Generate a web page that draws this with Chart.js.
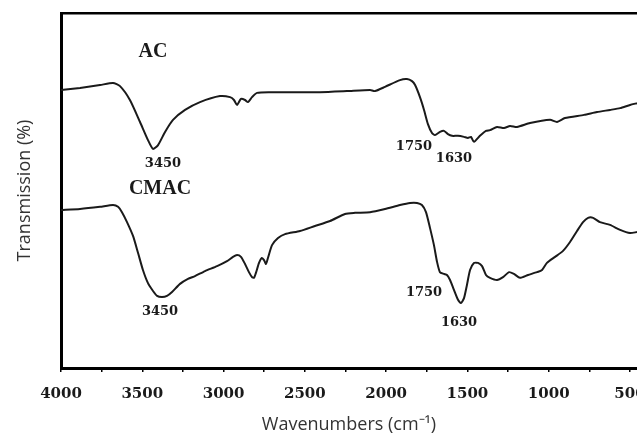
<!DOCTYPE html>
<html>
<head>
<meta charset="utf-8">
<script src="https://cdn.jsdelivr.net/npm/chart.js@4"></script>
<style>
 body { margin: 0; background: #fff; }
 canvas { display: block; }
</style>
</head>
<body>
<canvas id="chart" width="637" height="435"></canvas>
<script>
// wavenumbers (cm-1) and transmission (arbitrary units)
const acWave = [4000, 3883, 3760, 3680, 3637, 3576, 3514, 3465, 3434, 3403, 3360, 3311, 3237, 3145, 3022, 2960, 2936, 2917, 2893, 2868, 2850, 2825, 2794, 2714, 2591, 2407, 2241, 2099, 2069, 2007, 1915, 1872, 1841, 1822, 1792, 1767, 1743, 1718, 1700, 1669, 1644, 1620, 1595, 1558, 1521, 1497, 1478, 1460, 1423, 1386, 1361, 1318, 1275, 1238, 1195, 1115, 992, 949, 900, 783, 703, 623, 561, 500, 457];
const acTrans = [78.3, 78.9, 79.7, 80.3, 79.4, 75.5, 69.3, 64.2, 61.7, 62.8, 66.5, 69.9, 72.7, 74.9, 76.6, 76.3, 75.5, 74.1, 75.8, 75.5, 74.9, 76.3, 77.5, 77.7, 77.7, 77.7, 78.0, 78.3, 78.0, 79.2, 81.1, 81.4, 80.8, 79.7, 76.3, 72.7, 68.7, 66.2, 65.6, 66.5, 66.8, 65.9, 65.4, 65.4, 65.1, 64.8, 65.1, 63.7, 65.4, 66.8, 67.0, 67.9, 67.6, 68.2, 67.9, 69.0, 69.9, 69.3, 70.4, 71.3, 72.1, 72.7, 73.2, 74.1, 74.6];

const cmacWave = [4000, 3883, 3760, 3680, 3649, 3625, 3594, 3557, 3526, 3496, 3465, 3434, 3409, 3379, 3348, 3317, 3268, 3219, 3176, 3114, 3040, 2979, 2942, 2917, 2893, 2868, 2844, 2825, 2813, 2801, 2782, 2764, 2751, 2739, 2727, 2702, 2665, 2622, 2530, 2438, 2345, 2253, 2192, 2099, 2007, 1915, 1853, 1810, 1780, 1755, 1730, 1706, 1687, 1669, 1644, 1626, 1607, 1583, 1558, 1540, 1521, 1503, 1484, 1460, 1435, 1410, 1386, 1361, 1318, 1281, 1244, 1214, 1177, 1127, 1072, 1041, 1011, 961, 912, 869, 826, 789, 758, 727, 685, 623, 561, 500, 457];
const cmacTrans = [44.5, 44.8, 45.4, 45.9, 45.4, 43.9, 41.1, 37.2, 32.4, 27.6, 23.9, 21.7, 20.3, 20.0, 20.3, 21.4, 23.7, 25.1, 25.9, 27.3, 28.7, 30.1, 31.3, 31.8, 31.3, 29.3, 27.0, 25.6, 25.4, 26.8, 29.6, 31.0, 30.4, 29.3, 31.0, 34.6, 36.6, 37.7, 38.6, 40.0, 41.4, 43.4, 43.7, 43.9, 44.8, 45.9, 46.5, 46.5, 45.9, 43.9, 39.4, 34.6, 29.9, 27.0, 26.5, 26.2, 24.8, 22.0, 19.2, 18.3, 19.7, 23.4, 27.6, 29.6, 29.6, 28.7, 26.2, 25.4, 24.8, 25.6, 27.0, 26.5, 25.4, 26.2, 27.0, 27.6, 29.6, 31.3, 33.0, 35.5, 38.6, 41.1, 42.3, 42.3, 41.1, 40.3, 38.9, 38.0, 38.3];

// axis ticks: every 250, labelled every 500
const xTicks = [4000, 3750, 3500, 3250, 3000, 2750, 2500, 2250, 2000, 1750, 1500, 1250, 1000, 750, 500];
const xTickLabels = ["4000", "", "3500", "", "3000", "", "2500", "", "2000", "", "1500", "", "1000", "", "500"];

// text labels on the plot, anchored in data units
const sampleNames = ["AC", "CMAC"];
const sampleAt = [[3434, 89.0], [3391, 50.4]];
const peakText = ["3450", "1750", "1630", "3450", "1750", "1630"];
const peakAt = [[3373, 57.7], [1829, 62.5], [1583, 58.9], [3391, 15.8], [1767, 21.1], [1552, 12.7]];

const xMin = 457, xMax = 4000;

function toPoints(xs, ys) {
 return xs.map((x, i) => ({ x: x, y: ys[i] }));
}

const labelPlugin = {
 id: "peakLabels",
 afterDatasetsDraw(chart) {
  const ctx = chart.ctx;
  const xs = chart.scales.x, ys = chart.scales.y;
  ctx.save();
  ctx.fillStyle = "#1a1a1a";
  ctx.textAlign = "center";
  ctx.textBaseline = "middle";
  ctx.font = "bold 20px 'Liberation Serif'";
  sampleNames.forEach((t, i) => {
   ctx.fillText(t, xs.getPixelForValue(sampleAt[i][0]), ys.getPixelForValue(sampleAt[i][1]));
  });
  ctx.font = "bold 13px 'DejaVu Serif'";
  peakText.forEach((t, i) => {
   ctx.fillText(t, xs.getPixelForValue(peakAt[i][0]), ys.getPixelForValue(peakAt[i][1]));
  });
  ctx.restore();
 }
};

const lineStyle = {
 borderColor: "#1a1a1a",
 borderWidth: 2,
 pointRadius: 0,
 tension: 0.2,
 fill: false
};

new Chart(document.getElementById("chart").getContext("2d"), {
 type: "line",
 data: {
  datasets: [
   Object.assign({ label: "AC", data: toPoints(acWave, acTrans) }, lineStyle),
   Object.assign({ label: "CMAC", data: toPoints(cmacWave, cmacTrans) }, lineStyle)
  ]
 },
 options: {
  responsive: false,
  animation: false,
  layout: { padding: 0 },
  plugins: { legend: { display: false }, tooltip: { enabled: false } },
  scales: {
   x: {
    type: "linear",
    position: "bottom",
    reverse: true,
    min: xMin,
    max: xMax,
    afterBuildTicks(scale) {
     scale.ticks = xTicks.map(v => ({ value: v }));
    },
    afterFit(scale) {
     scale.height = 67;
     scale.paddingLeft = 0;
     scale.paddingRight = 0;
    },
    ticks: {
     autoSkip: false,
     maxRotation: 0,
     padding: 13,
     color: "#1a1a1a",
     font: { family: "'DejaVu Serif'", weight: "bold", size: 15 },
     callback: (v, i) => xTickLabels[i]
    },
    grid: { drawOnChartArea: false, drawTicks: true, tickLength: 4, color: "#000", lineWidth: 1.5 },
    border: { display: true, color: "#000", width: 3 },
    title: {
     display: true,
     text: "Wavenumbers (cm\u207B\u00B9)",
     color: "#333",
     font: { family: "'Open Sans'", size: 18, lineHeight: 1 },
     padding: { top: 0, bottom: 1 }
    }
   },
   top: {
    type: "linear",
    position: "top",
    reverse: true,
    min: xMin,
    max: xMax,
    ticks: { display: false },
    grid: { drawOnChartArea: false, drawTicks: false },
    border: { display: true, color: "#000", width: 2.5 },
    afterFit(scale) {
     scale.height = 13;
     scale.paddingLeft = 0;
     scale.paddingRight = 0;
    }
   },
   y: {
    type: "linear",
    min: 0,
    max: 100,
    ticks: { display: false },
    grid: { drawOnChartArea: false, drawTicks: false },
    border: { display: true, color: "#000", width: 3 },
    afterFit(scale) {
     scale.width = 61;
    },
    title: {
     display: true,
     text: "Transmission (%)",
     color: "#333",
     font: { family: "'Open Sans'", size: 18 },
     padding: { top: 14, bottom: 0 }
    }
   }
  }
 },
 plugins: [labelPlugin]
});
</script>
</body>
</html>
